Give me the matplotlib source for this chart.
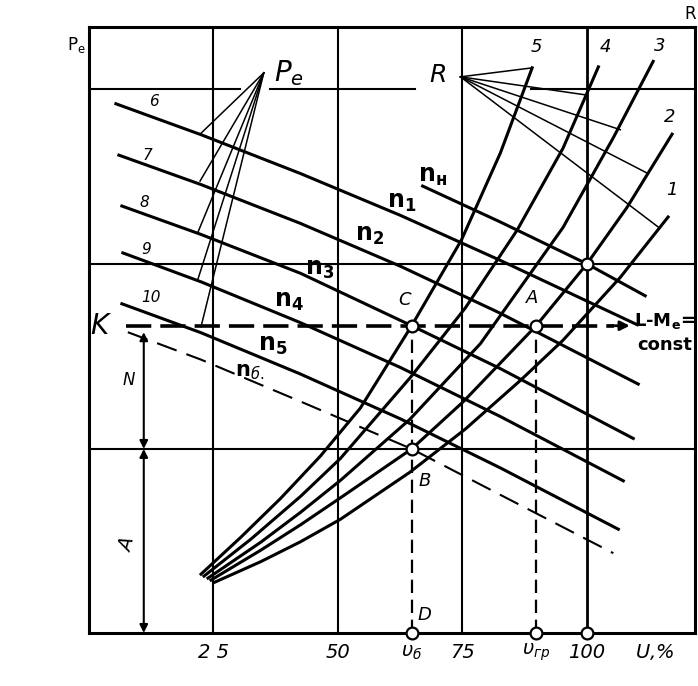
import matplotlib.pyplot as plt

# === Сетка и рамка (x в %, y в условных единицах P_e) ===
x_grid = [25, 50, 75, 100]
y_grid = [36.9, 74.0]
y_top_line = 109.1
top_line_parts = [(0, 30.3), (36.3, 65.4), (88.8, 121.7)]
x_max, y_max = 121.7, 121.5

# === Характеристики n (линии, идущие вниз вправо) ===
n_lines = {
    '6': ([5.4, 22.5, 42.5, 62.6, 82.6, 110.1], [106.1, 99.9, 92.1, 83.7, 74.7, 61.8]),
    '7': ([6.0, 22.5, 42.5, 62.6, 82.6, 110.3], [95.8, 89.9, 82.1, 73.5, 64.1, 49.9]),
    '8': ([6.6, 22.5, 42.5, 64.8, 82.6, 109.3], [85.6, 79.9, 72.1, 61.6, 53.0, 39.0]),
    '9': ([6.8, 22.5, 42.5, 62.6, 82.6, 107.3], [76.2, 70.4, 62.2, 53.2, 43.4, 30.5]),
    '10': ([6.6, 22.5, 42.5, 62.6, 82.6, 106.3], [66.0, 60.2, 51.9, 42.9, 33.1, 20.8]),
}
nn_x = [67.0, 82.6, 100.0, 111.7]
nn_y = [89.6, 82.4, 74.0, 67.6]
nb_x = [7.8, 22.5, 42.5, 64.8, 82.6, 105.3]
nb_y = [60.3, 54.8, 46.4, 36.9, 27.7, 16.0]

# === Кривые сопротивления R (1..5) ===
r_curves = {
    '5': ([22.5, 30.5, 38.5, 46.5, 54.5, 64.8, 74.8, 82.6, 89.0],
          [11.8, 19.2, 27.0, 35.5, 45.1, 61.6, 78.8, 96.2, 113.3]),
    '4': ([23.1, 32.5, 42.5, 50.5, 64.6, 75.6, 86.0, 95.2, 102.3],
          [11.4, 18.8, 27.4, 35.0, 51.3, 65.2, 80.8, 97.2, 113.5]),
    '3': ([23.9, 34.5, 42.5, 50.5, 64.4, 78.6, 95.2, 105.3, 113.3],
          [11.0, 18.2, 24.2, 30.6, 42.8, 58.0, 81.3, 99.3, 114.6]),
    '2': ([24.5, 34.5, 42.5, 50.5, 64.8, 75.2, 89.8, 100.0, 108.1, 117.1],
          [10.6, 16.6, 21.7, 27.1, 36.9, 46.4, 61.6, 74.0, 85.4, 100.0]),
    '1': ([25.3, 34.5, 42.5, 50.5, 64.4, 75.6, 86.6, 95.2, 106.7, 116.3],
          [10.2, 14.3, 18.3, 22.8, 32.2, 40.9, 50.6, 58.7, 71.3, 83.4]),
}

# выноски
pe_origin = (35.1, 112.3)
pe_ends = [(22.5, 100.2), (22.3, 90.6), (21.9, 80.4), (21.9, 71.0), (22.5, 61.4)]
r_origin = (74.6, 111.5)
r_ends = [(89.0, 113.3), (99.6, 107.9), (106.7, 100.9), (112.1, 92.2), (114.3, 81.4)]

# точки
k_level = 61.6
v_b, v_gr = 64.8, 89.8
pts_x = [64.8, 89.8, 100.0, 64.8, 64.8, 89.8, 100.0]
pts_y = [61.6, 61.6, 74.0, 36.9, 0, 0, 0]

tick_pos = [25, 50, 64.8, 75, 89.8, 100, 113.5]
tick_txt = ['2 5', '50', r'$\upsilon_б$', '75', r'$\upsilon_{гр}$', '100', r'$U$,%']

n_labels = [(r'$\mathbf{n}_{\mathbf{н}}$', 69.0, 91.6), (r'$\mathbf{n}_{\mathbf{1}}$', 62.8, 86.4),
            (r'$\mathbf{n}_{\mathbf{2}}$', 56.3, 79.8), (r'$\mathbf{n}_{\mathbf{3}}$', 46.3, 73.0),
            (r'$\mathbf{n}_{\mathbf{4}}$', 40.1, 66.6), (r'$\mathbf{n}_{\mathbf{5}}$', 36.9, 57.7)]
num_labels = {'6': (13.0, 106.5), '7': (11.8, 95.8), '8': (11.2, 86.4),
              '9': (11.4, 76.8), '10': (12.4, 67.2)}
curve_labels = {'1': (117.1, 88.8), '2': (116.7, 103.5), '3': (114.7, 117.7),
                '4': (103.7, 117.5), '5': (89.8, 117.5)}

fig = plt.figure(figsize=(6.98, 6.86), dpi=100)
ax = fig.add_axes([0.1275, 0.0773, 0.8682, 0.8834])
ax.set_xlim(0, x_max)
ax.set_ylim(0, y_max)
ax.set_xticks([])
ax.set_yticks([])
for s in ax.spines.values():
    s.set_linewidth(2.2)

# сетка
for x in x_grid:
    ax.axvline(x, color='k', lw=1.5 if x != 100 else 2.0)
for y in y_grid:
    ax.axhline(y, color='k', lw=1.5)
for a, b in top_line_parts:
    ax.plot([a, b], [y_top_line, y_top_line], color='k', lw=1.5)

# линии n
for name, (xs, ys) in n_lines.items():
    ax.plot(xs, ys, color='k', lw=2.2, solid_joinstyle='round')
ax.plot(nn_x, nn_y, color='k', lw=2.2, solid_joinstyle='round')
ax.plot(nb_x, nb_y, color='k', lw=1.5, dashes=(10, 5))

# кривые R
for name, (xs, ys) in r_curves.items():
    ax.plot(xs, ys, color='k', lw=2.2, solid_joinstyle='round')

# выноски P_e и R
for ex, ey in pe_ends:
    ax.plot([pe_origin[0], ex], [pe_origin[1], ey], color='k', lw=1.1)
for ex, ey in r_ends:
    ax.plot([r_origin[0], ex], [r_origin[1], ey], color='k', lw=1.1)

# линия K (L-M_e = const)
ax.plot([7.4, 105.5], [k_level, k_level], color='k', lw=2.6, dashes=(7, 2.5))
ax.annotate('', xy=(108.6, k_level), xytext=(104.5, k_level),
            arrowprops=dict(arrowstyle='-|>', color='k', lw=2, mutation_scale=14,
                            shrinkA=0, shrinkB=0))

# вертикальные пунктиры
ax.plot([v_b, v_b], [0, k_level], color='k', lw=1.6, dashes=(6, 3))
ax.plot([v_gr, v_gr], [0, k_level], color='k', lw=1.6, dashes=(6, 3))

# размерные стрелки
for y0, y1 in [(60.3, 36.9), (36.9, 0)]:
    ax.annotate('', xy=(11.0, y0), xytext=(11.0, y1),
                arrowprops=dict(arrowstyle='<|-|>', color='k', lw=1.5,
                                mutation_scale=12, shrinkA=0, shrinkB=0))
ax.text(8.0, 50.7, 'N', fontsize=12, style='italic', ha='center', va='center')
ax.text(7.8, 17.6, 'A', fontsize=14, style='italic', ha='center', va='center', rotation=75)

# точки
ax.plot(pts_x, pts_y, 'o', ms=8.5, mfc='white', mec='k', mew=1.6, clip_on=False, zorder=5)

# подписи
for txt, x, y in n_labels:
    ax.text(x, y, txt, fontsize=17, ha='center', va='center')
ax.text(32.3, 52.3, r'$\mathbf{n}_{б.}$', fontsize=15, ha='center', va='center')
for txt, (x, y) in num_labels.items():
    ax.text(x, y, txt, fontsize=11, style='italic', ha='center', va='center')
for txt, (x, y) in curve_labels.items():
    ax.text(x, y, txt, fontsize=13, style='italic', ha='center', va='center')

ax.text(40.2, 112.3, r'$P_e$', fontsize=20, ha='center', va='center')
ax.text(70.0, 111.9, r'$R$', fontsize=18, ha='center', va='center')
ax.text(2.4, k_level, r'$K$', fontsize=20, ha='center', va='center')
ax.text(63.4, 66.8, 'C', fontsize=13, style='italic', ha='center', va='center')
ax.text(89.0, 67.2, 'A', fontsize=13, style='italic', ha='center', va='center')
ax.text(67.4, 30.5, 'B', fontsize=13, style='italic', ha='center', va='center')
ax.text(67.4, 3.6, 'D', fontsize=13, style='italic', ha='center', va='center')
ax.text(115.6, 62.6, r'L-M$_\mathbf{e}$=', fontsize=13, fontweight='bold',
        ha='center', va='center')
ax.text(115.6, 57.7, 'const', fontsize=13, fontweight='bold', ha='center', va='center')

for x, t in zip(tick_pos, tick_txt):
    ax.text(x, -3.9, t, fontsize=14, style='italic', ha='center', va='center', clip_on=False)

ax.text(-2.6, 117.9, r'P$_\mathregular{e}$', fontsize=12, ha='center', va='center')
ax.text(120.8, 124.0, 'R', fontsize=12, ha='center', va='center')

fig.savefig('out.png', dpi=100)
